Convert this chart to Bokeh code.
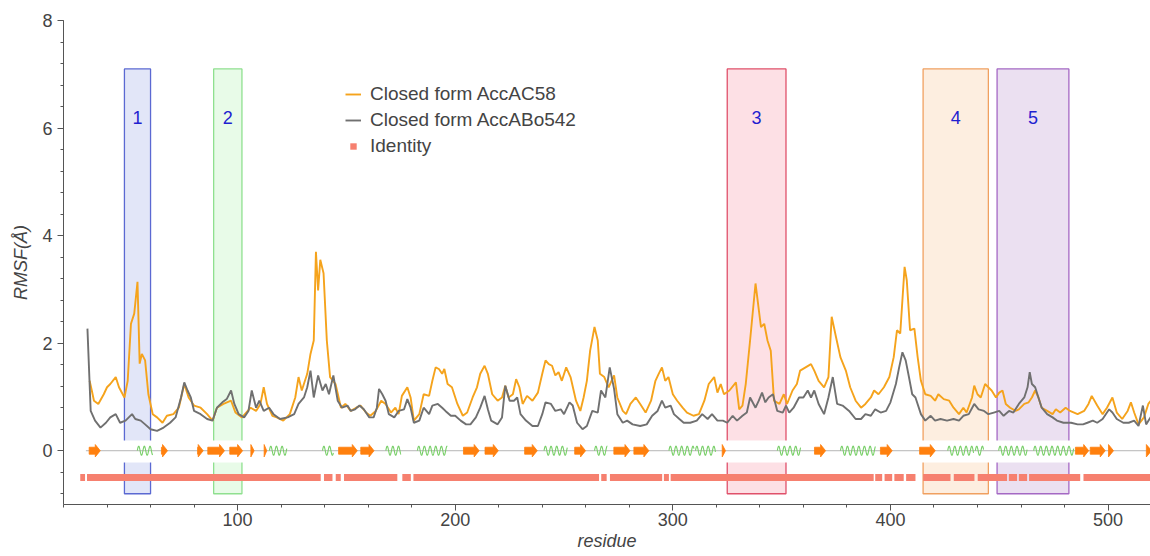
import numpy as np
from bokeh.plotting import figure
from bokeh.models import (Range1d, SingleIntervalTicker, Legend, LegendItem, ColumnDataSource)
from bokeh.embed import file_html
from bokeh.resources import INLINE

# ---------------- data ----------------
orange_res = [32, 33, 34, 36, 38.5, 40, 41.5, 44, 45.5, 48, 49.5, 51, 52.5, 54, 55, 56, 57.5, 59, 61, 63, 65.5, 67.5,
              70.5, 73, 75.5, 77.5, 80, 83, 86, 88.5, 90.5, 93.5, 97, 99, 102, 106, 108.5, 110.5, 112, 113.5, 116, 118,
              121, 124, 126.5, 128, 129.5, 132, 133.5, 135, 136, 137, 138, 139.5, 141, 142.5, 145, 147.5, 149.5, 152,
              154.5, 156.5, 159, 161, 163.5, 166, 168, 170.5, 172.5, 174, 175.5, 178, 179.5, 181, 183.5, 185.5, 188,
              189.5, 191, 192.5, 194, 195, 196.5, 198.5, 201, 203.5, 205.5, 208, 210, 211.5, 213.5, 215, 217, 219.5,
              221.5, 223, 224.5, 226.5, 228, 229.5, 231, 233, 235.5, 238, 240, 241.5, 243, 244.5, 246, 247.5, 249, 251,
              253, 255.5, 257.5, 259, 260.5, 262, 264, 265.5, 266.5, 268.5, 270.5, 273, 274.5, 277, 278.5, 280.5, 283,
              285, 287.5, 290, 292, 293.5, 295, 296.5, 298, 300, 302, 304.5, 306.5, 309.5, 312, 314.5, 316.5, 319,
              320.5, 322, 323.5, 326, 329, 330.5, 332, 333.5, 335.5, 338, 340.5, 342, 343.5, 345, 346.5, 349, 351,
              352.5, 355, 357, 358.5, 361, 363.5, 365, 367, 369.5, 371.5, 373, 375, 377, 379.5, 381.5, 384, 386.5,
              388.5, 391, 392.5, 394.5, 397, 399.5, 401.5, 403, 404.5, 406.5, 407.5, 409, 411, 412.5, 414, 416, 418.5,
              420.5, 422, 424.5, 427, 429, 431.5, 433.5, 435, 437.5, 438.5, 440, 441.5, 443.5, 445, 446.5, 448.5, 450,
              451.5, 453, 455, 457.5, 459, 461.5, 463.5, 465, 466.5, 468, 469.5, 472, 474.5, 476, 478, 480.5, 482.5,
              486, 489, 491, 492.5, 495, 497.5, 499.5, 502, 504, 506.5, 509, 510.5, 512, 514, 516.5, 518.5, 520]
orange_rmsf = [1.30, 1.12, 0.93, 0.87, 1.05, 1.18, 1.24, 1.37, 1.18, 0.99, 1.30, 2.36, 2.55, 3.14, 1.62, 1.80, 1.68,
               1.05, 0.68, 0.62, 0.52, 0.65, 0.68, 0.80, 1.24, 0.99, 0.84, 0.80, 0.68, 0.56, 0.80, 0.87, 0.93, 0.71,
               0.62, 0.80, 0.74, 0.87, 1.18, 0.87, 0.65, 0.62, 0.56, 0.68, 0.99, 1.37, 1.12, 1.43, 1.80, 2.05, 3.70,
               2.98, 3.55, 3.30, 2.05, 1.37, 1.24, 0.80, 0.87, 0.74, 0.80, 0.84, 0.71, 0.65, 0.74, 0.93, 0.87, 0.71,
               0.80, 0.68, 1.02, 1.18, 0.99, 0.56, 0.68, 1.05, 1.02, 1.30, 1.55, 1.52, 1.43, 1.52, 1.24, 1.18, 0.87,
               0.65, 0.71, 0.99, 1.18, 1.43, 1.58, 1.43, 1.05, 0.93, 0.99, 1.21, 0.99, 1.05, 1.33, 1.18, 0.87, 1.02,
               0.93, 1.08, 1.43, 1.68, 1.61, 1.58, 1.40, 1.46, 1.30, 1.55, 1.37, 0.93, 0.74, 0.99, 1.30, 1.86, 2.30,
               2.05, 1.43, 1.37, 1.18, 1.40, 0.99, 0.74, 0.68, 0.87, 0.99, 0.87, 0.71, 0.93, 1.30, 1.43, 1.55, 1.30,
               1.37, 1.05, 0.93, 0.80, 0.71, 0.65, 0.68, 0.93, 1.24, 1.37, 1.08, 1.24, 1.05, 1.12, 1.27, 0.77, 0.84,
               1.24, 2.05, 3.11, 2.30, 2.36, 2.05, 1.86, 0.93, 0.87, 1.05, 0.87, 1.12, 1.24, 1.49, 1.55, 1.61, 1.49,
               1.30, 1.18, 1.37, 2.49, 2.11, 1.74, 1.49, 1.18, 0.93, 0.80, 0.87, 0.99, 1.12, 1.05, 1.18, 1.37, 1.74,
               2.24, 2.18, 3.42, 3.17, 2.24, 2.27, 1.74, 1.30, 1.05, 1.02, 0.93, 1.05, 0.96, 0.93, 0.80, 0.68, 0.80,
               0.71, 0.99, 1.21, 1.05, 0.99, 1.24, 1.18, 1.12, 0.99, 1.08, 1.12, 0.87, 0.80, 0.74, 0.77, 0.87, 0.90,
               0.99, 1.12, 0.99, 0.80, 0.74, 0.68, 0.77, 0.71, 0.80, 0.74, 0.68, 0.74, 0.87, 1.02, 0.84, 0.68, 0.80,
               0.99, 0.71, 0.59, 0.74, 0.90, 0.71, 0.49, 0.62, 0.87, 0.95]

gray_res = [31, 32.5, 34.5, 37, 39.5, 41.5, 44, 46, 48.5, 50, 51.5, 53, 55.5, 57.5, 60, 63, 66, 69, 71.5, 74, 75.5, 77,
            78.5, 80, 83, 86, 88.5, 90.5, 93, 95, 97, 98.5, 100.5, 103, 105, 106.5, 108.5, 110, 112, 114.5, 116.5,
            119.5, 123, 126, 128, 130.5, 132, 133.5, 135, 137, 139, 140.5, 142, 144, 146, 148, 150.5, 152, 154, 156,
            158, 160.5, 162.5, 164, 165, 166.5, 168, 169.5, 172, 174, 176.5, 178, 179.5, 181, 183.5, 185.5, 188,
            189.5, 192, 194, 195.5, 198, 200, 202.5, 205, 207, 209.5, 211.5, 213.5, 215, 216.5, 219.5, 221.5, 223,
            225, 227, 228.5, 230, 232.5, 235.5, 238, 240, 241.5, 244, 246, 248.5, 250, 252.5, 254, 256, 258.5, 260.5,
            263, 265.5, 267, 269, 271, 273, 274.5, 277, 279, 281.5, 285, 288, 290.5, 293, 295, 296.5, 299, 300.5,
            303, 305, 308, 311, 313.5, 316, 318, 320.5, 323, 325, 327.5, 329.5, 332, 334, 335.5, 338, 339.5, 341,
            342.5, 344, 346, 348, 350.5, 352, 353.5, 355.5, 358, 360, 362, 363.5, 365, 367, 369.5, 371.5, 373.5,
            375.5, 378, 381, 384, 386.5, 388.5, 391, 393, 395.5, 398, 400, 402.5, 404, 405.5, 407, 408.5, 410, 411.5,
            414, 416, 418.5, 420.5, 423, 426, 429, 431.5, 433.5, 436, 438.5, 440.5, 443, 445, 447.5, 450, 452, 454.5,
            456.5, 459, 461.5, 463, 464, 465, 466.5, 468, 469.5, 472, 474.5, 476.5, 479.5, 483, 486, 488.5, 490.5,
            493, 495, 497.5, 500.5, 502, 504, 507, 509.5, 512, 514, 516, 517.5, 520]
gray_rmsf = [2.27, 0.74, 0.56, 0.43, 0.52, 0.62, 0.68, 0.52, 0.56, 0.62, 0.68, 0.59, 0.56, 0.49, 0.40, 0.37, 0.43,
             0.52, 0.62, 0.99, 1.27, 1.12, 0.99, 0.74, 0.68, 0.59, 0.56, 0.80, 0.90, 0.96, 1.12, 0.87, 0.68, 0.62,
             0.74, 1.12, 0.80, 0.93, 0.74, 0.80, 0.68, 0.59, 0.62, 0.68, 0.87, 0.99, 1.18, 1.49, 0.99, 1.40, 1.12,
             1.24, 1.05, 1.40, 0.93, 0.80, 0.84, 0.74, 0.77, 0.84, 0.77, 0.62, 0.62, 0.80, 1.15, 1.05, 0.93, 0.68,
             0.62, 0.74, 0.77, 0.96, 0.80, 0.52, 0.56, 0.80, 0.68, 0.84, 0.87, 0.80, 0.74, 0.65, 0.65, 0.56, 0.49,
             0.49, 0.62, 0.80, 1.02, 0.77, 0.56, 0.49, 0.62, 1.21, 0.93, 0.93, 0.99, 0.68, 0.56, 0.46, 0.46, 0.68,
             0.90, 0.87, 0.74, 0.77, 0.68, 0.90, 0.84, 0.52, 0.40, 0.46, 0.74, 0.71, 1.12, 0.99, 1.55, 1.15, 0.68,
             0.52, 0.56, 0.49, 0.46, 0.49, 0.65, 0.74, 0.93, 0.80, 0.84, 0.68, 0.59, 0.52, 0.52, 0.56, 0.68, 0.59,
             0.68, 0.56, 0.56, 0.52, 0.65, 0.56, 0.65, 0.71, 0.99, 0.80, 0.93, 1.08, 0.90, 0.99, 1.05, 0.74, 0.71,
             0.84, 0.71, 0.80, 0.99, 0.99, 1.12, 0.99, 1.12, 0.87, 0.68, 0.99, 1.37, 0.87, 0.84, 0.74, 0.59, 0.59,
             0.68, 0.65, 0.77, 0.71, 0.74, 0.90, 1.24, 1.55, 1.83, 1.68, 1.37, 1.05, 0.99, 0.68, 0.56, 0.65, 0.56,
             0.59, 0.56, 0.59, 0.56, 0.65, 0.68, 0.87, 0.77, 0.74, 0.68, 0.71, 0.74, 0.65, 0.74, 0.71, 0.87, 0.99,
             1.18, 1.46, 1.24, 1.18, 0.99, 0.80, 0.68, 0.62, 0.56, 0.52, 0.52, 0.49, 0.49, 0.52, 0.56, 0.52, 0.59,
             0.77, 0.71, 0.59, 0.52, 0.52, 0.56, 0.46, 0.84, 0.49, 0.65]

# highlighted regions
box_labels = ["1", "2", "3", "4", "5"]
box_left = [48, 89, 325, 415, 449]
box_right = [60, 102, 352, 445, 482]
box_top = 7.1
box_bottom = -0.8
box_line_colors = ["#5b69d2", "#8fe08f", "#e0506a", "#f0a060", "#a468c4"]
box_fill_colors = ["#e2e6f8", "#e8fbe8", "#fde0e5", "#fdeee0", "#ebe0f1"]

# secondary structure (residue ranges)
strand_start = [31.8, 65.0, 81.6, 86.3, 96.4, 106.1, 112.2, 146.4, 156.6, 203.8, 213.7, 231.9, 254.9, 272.9,
                282.1, 322.7, 365.1, 395.4, 413.4, 485.0, 491.8, 500.2, 517.6]
strand_end = [36.9, 67.8, 84.2, 94.0, 102.3, 107.6, 113.4, 155.0, 162.7, 211.0, 219.8, 237.7, 259.9, 280.3,
              289.0, 324.2, 370.2, 400.8, 420.6, 491.1, 498.7, 502.5, 520.0]
helix_start = [53.9, 114.6, 139.0, 168.1, 182.6, 240.8, 264.0, 298.2, 310.4, 348.0, 377.0, 426.3, 439.0, 449.7,
               465.8]
helix_end = [60.9, 122.6, 144.0, 175.0, 196.4, 251.5, 269.9, 309.7, 319.6, 358.7, 393.1, 438.2, 442.8, 462.8,
             484.2]

# sequence identity (residue ranges)
identity_start = [27.7, 30.8, 139.7, 145.1, 148.9, 175.7, 180.8, 267.1, 271.1, 295.9, 299.0, 393.0, 397.3, 401.8,
                  407.2, 415.0, 429.1, 440.1, 454.4, 459.0, 463.7, 488.7]
identity_end = [29.9, 138.2, 143.6, 147.4, 173.4, 179.6, 266.1, 269.6, 295.1, 298.2, 392.3, 396.2, 400.8, 406.1,
                411.5, 427.6, 438.6, 453.6, 458.2, 462.8, 487.2, 522.0]

FONT = "Liberation Sans"
TXT = "#444444"

# ---------------- figure ----------------
p = figure(width=1150, height=556, output_backend="svg", toolbar_location=None,
           x_range=Range1d(20, 519.5), y_range=Range1d(-1, 8),
           min_border_left=63, min_border_right=0, min_border_top=20, min_border_bottom=52)
p.outline_line_color = None
p.xgrid.visible = False
p.ygrid.visible = False
p.background_fill_color = "white"

# boxes
for l, r, lc, fc in zip(box_left, box_right, box_line_colors, box_fill_colors):
    p.quad(left=l, right=r, bottom=box_bottom, top=box_top, fill_color=fc, line_color=lc, line_width=1.3)

# white band behind the secondary-structure track
p.quad(left=20, right=525, bottom=-0.22, top=0.19, fill_color="white", line_color=None)

# secondary structure baseline
ss_x0 = strand_start[0] - 1.5
p.segment(x0=ss_x0, y0=0, x1=521, y1=0, line_color="#b5b5b5", line_width=1)

# helices as wavy lines
hx, hy = [], []
for s, e in zip(helix_start, helix_end):
    xs = np.linspace(s, e, int((e - s) * 12) + 2)
    hx.append(list(xs))
    hy.append(list(0.085 * np.sin(2 * np.pi * (xs - s) / 2.6)))
p.multi_line(xs=hx, ys=hy, line_color="#78cf68", line_width=1.1)

# strands as arrows
bh, hh = 0.065, 0.115
sx, sy = [], []
for s, e in zip(strand_start, strand_end):
    hl = min(2.3, e - s)
    b = e - hl
    if b - s > 0.2:
        sx.append([s, b, b, e, b, b, s])
        sy.append([-bh, -bh, -hh, 0, hh, bh, bh])
    else:
        sx.append([s, e, s])
        sy.append([-hh, 0, hh])
p.patches(xs=sx, ys=sy, fill_color="#ff800e", line_color="#ff800e", line_width=0.8)

# identity track
id_src = ColumnDataSource(dict(left=identity_start, right=identity_end, y=[-0.5] * len(identity_start)))
p.hbar(y="y", left="left", right="right", height=0.13, source=id_src, fill_color="#f6806f", line_color=None)
# legend marker for the identity track (placed outside the visible range)
id_legend = p.scatter(x=[-100], y=[-100], marker="square", size=9, fill_color="#f6806f", line_color=None)

# RMSF lines
r_or = p.line(orange_res, orange_rmsf, line_color="#f5a31c", line_width=1.9)
r_gr = p.line(gray_res, gray_rmsf, line_color="#707070", line_width=1.9)

# box labels
p.text(x=[(l + r) / 2 for l, r in zip(box_left, box_right)], y=[6.2] * len(box_labels), text=box_labels,
       text_align="center", text_baseline="middle", text_color="#1f1fd0", text_font_size="18px",
       text_font={"value": FONT})

legend = Legend(items=[LegendItem(label="Closed form AccAC58", renderers=[r_or]),
                       LegendItem(label="Closed form AccABo542", renderers=[r_gr]),
                       LegendItem(label="Identity", renderers=[id_legend])],
                location=(282, 347), padding=0, margin=0, spacing=4, glyph_height=20, glyph_width=16,
                label_height=20, label_standoff=9, label_text_font=FONT, label_text_font_size="19px",
                label_text_color=TXT, background_fill_alpha=0, border_line_color=None)
p.add_layout(legend)

# axes
p.xaxis.ticker = SingleIntervalTicker(interval=100, num_minor_ticks=5)
p.yaxis.ticker = SingleIntervalTicker(interval=2, num_minor_ticks=5)
for ax in (p.xaxis[0], p.yaxis[0]):
    ax.axis_line_color = "#555555"
    ax.major_tick_line_color = "#555555"
    ax.minor_tick_line_color = "#555555"
    ax.major_tick_out = 6
    ax.major_tick_in = 0
    ax.minor_tick_out = 3
    ax.minor_tick_in = 0
    ax.major_label_text_font = FONT
    ax.major_label_text_font_size = "18px"
    ax.major_label_text_color = TXT
    ax.axis_label_text_font = FONT
    ax.axis_label_text_font_size = "18px"
    ax.axis_label_text_font_style = "italic"
    ax.axis_label_text_color = TXT
p.xaxis.axis_label = "residue"
p.yaxis.axis_label = "RMSF(Å)"
p.xaxis.major_label_standoff = 2
p.xaxis.axis_label_standoff = 2
p.yaxis.major_label_standoff = 5
p.yaxis.axis_label_standoff = 8

open("out.html", "w").write(file_html(p, INLINE))
